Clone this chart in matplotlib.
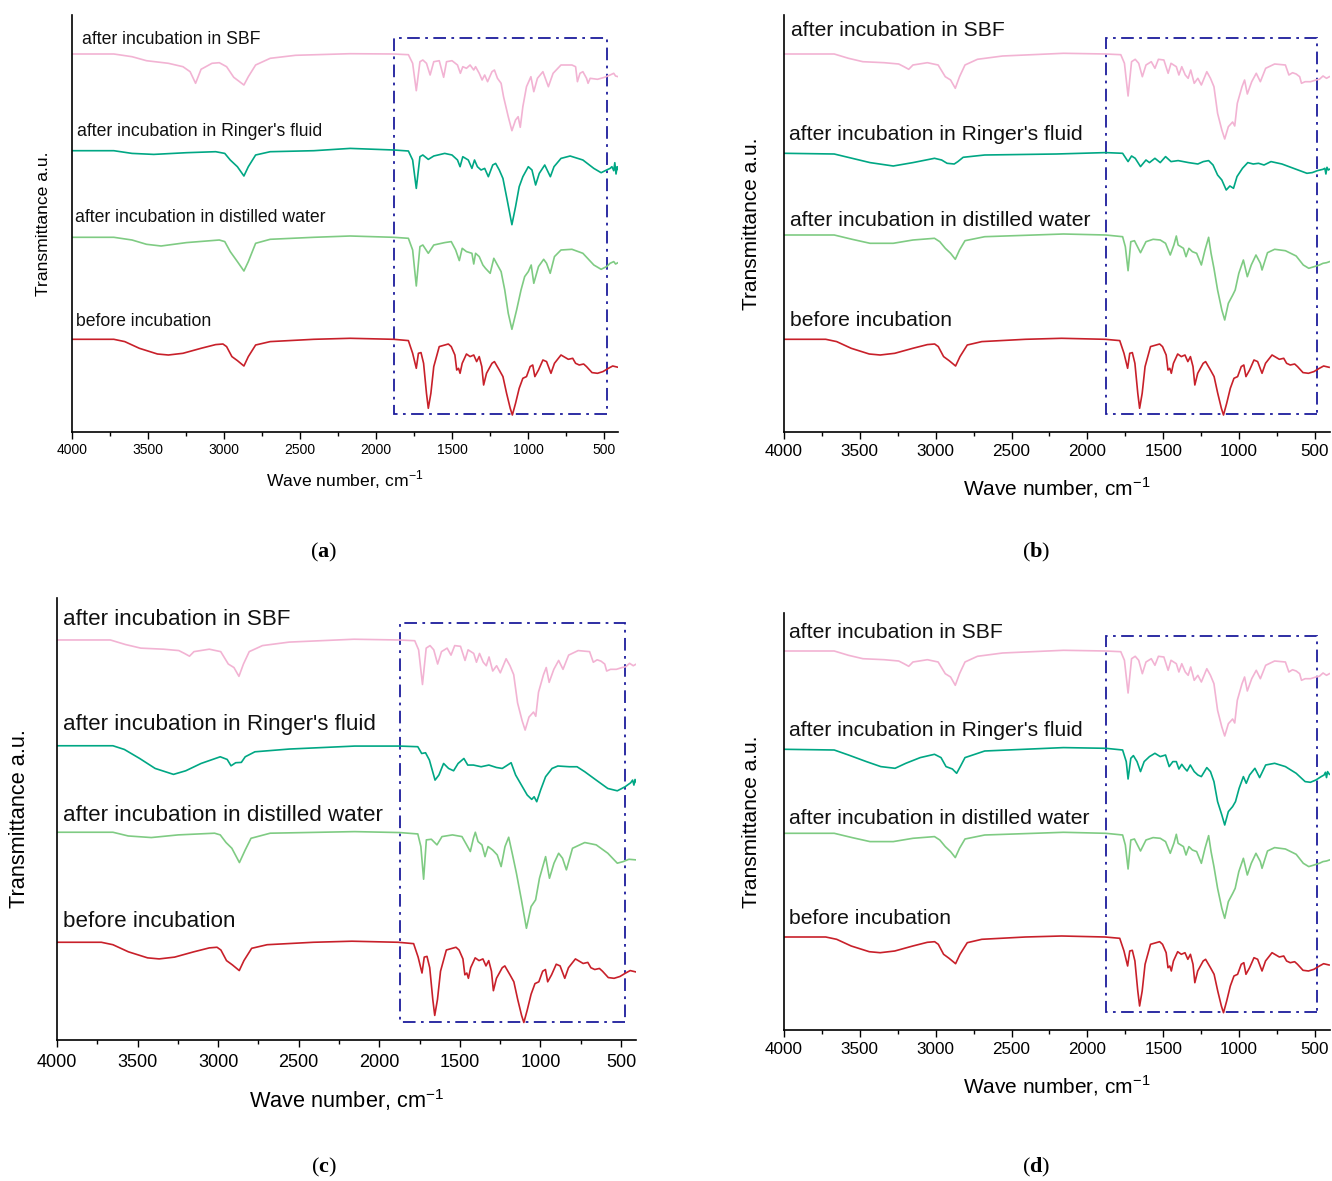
import matplotlib
matplotlib.use('Agg')
import matplotlib.pyplot as plt
from matplotlib.patches import Rectangle

plt.rcParams['font.family'] = ['Liberation Sans', 'DejaVu Sans']
plt.rcParams['mathtext.fontset'] = 'custom'
plt.rcParams['mathtext.rm'] = 'Liberation Sans'
plt.rcParams['mathtext.bf'] = 'Liberation Serif:bold'

# spectra: wave number (cm-1) and relative transmittance (a.u., 0 = baseline)
before_wn = [4000, 3725, 3653, 3557, 3438, 3366, 3270, 3151, 3055, 3007, 2983, 2948, 2912, 2869, 2840, 2792,
             2696, 2409, 2170, 1883, 1787, 1759, 1735, 1721, 1704, 1687, 1668, 1656, 1639, 1620, 1584, 1524,
             1505, 1481, 1469, 1457, 1447, 1433, 1405, 1381, 1357, 1338, 1321, 1304, 1292, 1273, 1237, 1221,
             1189, 1165, 1141, 1117, 1103, 1082, 1058, 1034, 1010, 986, 969, 955, 931, 902, 878, 849, 826,
             783, 735, 706, 687, 663, 634, 615, 579, 543, 507, 471, 443, 407]
before_t = [0, 0, -2.3, -9, -14.7, -15.7, -14, -9, -5.3, -4.7, -7.3, -17.3, -21.3, -26.7, -17.3, -5.7,
            -2.3, 0, 1, 0, -1.3, -14, -29, -14, -13.3, -24, -54, -69, -54, -27.3, -7.3, -4.7,
            -7.3, -15.7, -30.7, -29, -34, -24, -14.7, -17.3, -15.7, -22.3, -17.3, -27.3, -45.7, -34, -24, -22.3,
            -30.7, -37.3, -54, -69, -75.7, -64, -49, -39, -37.3, -27.3, -25.7, -37.3, -30.7, -20.7, -22.3, -34, -24,
            -15.7, -20, -19, -24, -25.7, -24.7, -27.3, -33.3, -34, -32.3, -29, -26.7, -28]

# (a)
sbf_a_wn = [4000, 3725, 3605, 3510, 3366, 3270, 3223, 3187, 3151, 3127, 3079, 3031, 2983, 2936, 2869, 2840,
            2792, 2696, 2529, 2170, 1883, 1787, 1759, 1735, 1711, 1692, 1668, 1644, 1620, 1584, 1555, 1536,
            1500, 1464, 1445, 1429, 1405, 1381, 1357, 1345, 1321, 1302, 1285, 1266, 1237, 1221, 1201, 1177,
            1161, 1130, 1106, 1082, 1065, 1051, 1034, 1010, 981, 962, 938, 902, 866, 835, 783, 711, 687, 675,
            658, 639, 615, 605, 591, 543, 496, 460, 436, 424, 407]
sbf_a_t = [0, 0, -2.7, -6.7, -9.3, -12.7, -17.7, -29.3, -15.3, -13.3, -9.3, -8.7, -12.7, -23.3, -31, -22.7,
           -11, -4.3, -1.3, 0.3, 0, -0.7, -9.3, -36.7, -7.7, -6, -9.3, -21, -7.7, -6.7, -23.3, -7.7,
           -6.7, -11, -19.3, -12.7, -14.3, -11, -16, -12.7, -19.3, -26, -21, -27.7, -17.7, -16, -24.3, -29.3,
           -42.7, -62.7, -76.7, -66, -62.7, -73.3, -52.7, -32.7, -22.7, -37.7, -24.3, -17.7, -32.7, -19.3, -11, -11, -12.7, -27.7,
           -19.3, -17.7, -24.3, -29.3, -24.3, -25.3, -23.3, -21, -19.3, -22, -22.7]

ringer_a_wn = [4000, 3725, 3605, 3462, 3247, 3055, 2995, 2959, 2912, 2869, 2840, 2792, 2696, 2409, 2170, 1883,
               1787, 1759, 1735, 1711, 1692, 1656, 1620, 1548, 1500, 1464, 1447, 1429, 1393, 1369, 1352, 1333,
               1309, 1285, 1261, 1232, 1213, 1189, 1165, 1137, 1106, 1082, 1058, 1034, 998, 974, 950, 926,
               890, 853, 829, 783, 723, 639, 567, 519, 483, 460, 448, 436, 429, 421, 414, 407]
ringer_a_t = [0, 0, -2.7, -3.7, -2, -1, -2.7, -9.3, -16, -25.3, -16, -4.3, -1, 0, 2.3, 0.7,
              -0.3, -9.3, -37.7, -6, -4.3, -8.7, -5.3, -2.7, -4.3, -9.3, -16, -6, -9.3, -17.7, -9.3, -16,
              -19.3, -17.7, -26, -14.3, -12.7, -19.3, -27.7, -49.3, -74, -56, -36, -26, -16, -19.3, -34.3, -22.7,
              -14.3, -26, -16, -7.7, -5.3, -9.3, -17.7, -22, -19.3, -17.7, -16, -20, -12, -23.3, -16, -18.7]

distilled_a_wn = [4000, 3725, 3605, 3510, 3414, 3247, 3031, 2995, 2959, 2912, 2869, 2840, 2792, 2696, 2409, 2170,
                  1883, 1787, 1759, 1735, 1711, 1692, 1656, 1620, 1548, 1505, 1476, 1452, 1433, 1405, 1369, 1357,
                  1345, 1321, 1297, 1280, 1249, 1225, 1201, 1177, 1153, 1130, 1106, 1075, 1046, 1022, 998, 979,
                  962, 931, 897, 878, 854, 826, 783, 711, 639, 567, 519, 483, 460, 436, 424, 407]
distilled_a_t = [0, 0, -2.7, -7, -8.7, -5.3, -2.7, -4.3, -14.3, -24.3, -33.7, -24.3, -6, -2, 0, 1.3,
                 0, -1, -12.7, -48.7, -9.3, -7.7, -16, -7.7, -5.3, -4.3, -12.7, -23.3, -11, -14.3, -16, -26.7,
                 -16, -19.3, -27.7, -31, -36, -21, -27.7, -34.3, -52.7, -76, -92, -72.7, -52.7, -39.3, -34.3, -27.7,
                 -46, -29.3, -22, -26, -36, -19.3, -12.7, -12, -16, -27.7, -32, -29.3, -26, -24.3, -26.7, -25.3]

# (b), also (c) and (d) for SBF; (b) and (d) for distilled water
sbf_wn = [4000, 3669, 3575, 3480, 3339, 3244, 3209, 3178, 3150, 3055, 2984, 2937, 2902, 2871, 2843, 2807,
          2725, 2559, 2158, 1879, 1780, 1756, 1732, 1709, 1685, 1662, 1638, 1614, 1579, 1555, 1532, 1496,
          1468, 1449, 1414, 1397, 1378, 1355, 1336, 1319, 1296, 1272, 1249, 1213, 1189, 1166, 1142, 1114,
          1095, 1071, 1043, 1029, 1012, 981, 964, 946, 917, 887, 860, 825, 766, 695, 672, 648, 624, 601,
          589, 565, 529, 494, 471, 447, 424, 405]
sbf_t = [0, 0, -4.3, -7.7, -8.7, -10, -12.7, -15.3, -11, -8.7, -11, -22.7, -26, -34.3, -22.7, -11,
         -5.3, -2, 0.7, 0, -0.7, -9.3, -42, -7.7, -5.3, -9.3, -22.7, -11, -7.7, -14.3, -5.3, -6,
         -19.3, -9.3, -12.7, -21, -12.7, -21, -24.3, -16, -29.3, -24.3, -31, -17.7, -24.3, -32.7, -59.3, -76,
         -85, -72.7, -68, -72, -49.3, -32.7, -26, -40, -27.7, -19.3, -27.7, -14.3, -10, -11, -21, -18.7, -20, -22.7,
         -29.3, -27.7, -27.7, -26, -25.3, -22, -24.3, -22.7]

ringer_b_wn = [4000, 3669, 3551, 3433, 3280, 3150, 3008, 2961, 2925, 2878, 2854, 2819, 2677, 2205, 1879, 1768,
               1732, 1709, 1685, 1650, 1614, 1591, 1555, 1520, 1485, 1449, 1402, 1333, 1272, 1236, 1201, 1172,
               1142, 1114, 1085, 1061, 1037, 1014, 978, 943, 907, 872, 836, 790, 718, 624, 553, 518, 483, 447,
               435, 428, 421, 412, 405]
ringer_b_t = [0, -0.7, -5, -9.3, -12.7, -9.3, -5, -6.7, -10, -10.7, -8.3, -4, -1.7, -0.7, 0.7, 0,
              -8.3, -2.7, -5, -13.3, -6.7, -9.3, -5, -9.3, -3.3, -8.3, -7.3, -9.3, -10.7, -8.3, -7.3, -11.7,
              -21.7, -26.7, -36.7, -32.7, -35, -23.3, -15, -9.3, -10.7, -10, -11.7, -8.3, -10.7, -16, -20, -19.3, -17.3, -16,
              -15, -20.7, -14, -16.7, -16]

distilled_wn = [4000, 3669, 3551, 3433, 3280, 3150, 3008, 2973, 2937, 2902, 2871, 2843, 2807, 2677, 2158, 1879,
                1768, 1750, 1732, 1714, 1690, 1650, 1614, 1567, 1520, 1485, 1454, 1430, 1414, 1402, 1367, 1350,
                1331, 1308, 1280, 1249, 1225, 1201, 1185, 1166, 1142, 1114, 1095, 1071, 1042, 1026, 1002, 972,
                946, 920, 889, 860, 849, 813, 766, 695, 624, 577, 541, 506, 471, 447, 424, 405]
distilled_t = [0, 0, -4.3, -8.3, -8.3, -5, -3.3, -6.7, -13.3, -18.3, -24.3, -15, -5.7, -1.7, 1, 0,
               -1.7, -11.7, -35.7, -6.7, -5.7, -17.7, -6.7, -4.3, -5, -8.3, -20, -10, -1, -10, -13.3, -21.7,
               -13.3, -16.7, -18.3, -30, -15, -2.3, -18.3, -33.3, -55, -75, -85, -68.3, -60, -55, -38.3, -25,
               -41.7, -30, -20, -28.3, -35, -17.7, -14.3, -15.7, -21, -30, -33.3, -31.7, -30, -28.3, -27.7, -26.7]

# (c)
ringer_c_wn = [4000, 3653, 3582, 3487, 3391, 3277, 3201, 3106, 2987, 2944, 2920, 2891, 2856, 2832, 2772, 2558,
               2153, 1873, 1761, 1737, 1713, 1689, 1654, 1630, 1601, 1570, 1539, 1511, 1475, 1451, 1416, 1368,
               1320, 1273, 1237, 1213, 1182, 1154, 1118, 1082, 1054, 1039, 1023, 999, 968, 928, 892, 820, 773,
               725, 654, 582, 523, 475, 440, 428, 420, 413, 404]
ringer_c_t = [0, 0, -3.5, -12, -21.4, -27, -23.6, -16.7, -10.4, -12.9, -18.9, -16, -15.7, -10.4, -5.7, -3.1,
              -0.3, -0.3, -0.9, -7.3, -6.6, -13.5, -32.4, -27.6, -16.7, -21.4, -23.6, -16.7, -12, -18.2, -18.2, -19.8,
              -18.2, -20.5, -21.4, -19.1, -16, -27.6, -37.1, -46.5, -50.6, -48.1, -52.8, -41.8, -29.2, -21.4, -19.1, -19.8, -19.8,
              -24.5, -32.4, -40.3, -42.5, -38.7, -34.9, -32.4, -37.1, -31.8, -34.9]

distilled_c_wn = [4000, 3653, 3558, 3415, 3248, 3022, 2987, 2951, 2915, 2868, 2832, 2796, 2677, 2153, 1873, 1761,
                  1742, 1725, 1708, 1677, 1642, 1611, 1546, 1487, 1458, 1435, 1416, 1404, 1387, 1363, 1344, 1325,
                  1297, 1268, 1244, 1220, 1197, 1173, 1149, 1118, 1087, 1058, 1030, 1006, 968, 944, 916, 887,
                  863, 839, 801, 725, 654, 582, 523, 487, 451, 404]
distilled_c_t = [0, 0, -3.5, -5, -2.5, -0.9, -2.5, -9.7, -15.1, -28.6, -16.7, -5.7, -0.9, 0.6, -0.3, -1.6,
                 -13.5, -44.3, -7.2, -6.6, -11.9, -4.1, -2.5, -4.1, -11.9, -18.2, -5.7, 0, -8.8, -11.9, -23, -13.5,
                 -16.7, -21.4, -32.4, -13.5, -4.7, -21.4, -38.7, -63.8, -90.6, -70.1, -63.8, -43.4, -23, -43.4, -29.2, -19.8,
                 -24.5, -35.5, -15.1, -9.7, -11.9, -19.8, -29.2, -27.7, -25.5, -26.1]

# (d)
ringer_d_wn = [4000, 3669, 3575, 3457, 3362, 3268, 3197, 3102, 3008, 2965, 2932, 2890, 2862, 2838, 2807, 2677,
               2158, 1879, 1768, 1744, 1732, 1714, 1697, 1673, 1650, 1626, 1591, 1555, 1520, 1485, 1461, 1437,
               1414, 1397, 1378, 1359, 1343, 1322, 1296, 1272, 1249, 1213, 1189, 1166, 1142, 1114, 1095, 1071,
               1043, 1024, 1000, 972, 953, 931, 896, 865, 825, 766, 695, 624, 565, 530, 494, 459, 440, 431,
               424, 417, 405]
ringer_d_t = [0, -0.7, -5.7, -12.3, -17.3, -19, -14, -8.3, -5, -8.3, -17.3, -19.7, -24, -17.3, -8.3, -1.7,
              1.7, 1, -0.7, -12.3, -29.7, -9, -6.3, -12.3, -22.3, -12.3, -7.3, -4, -7.3, -5.7, -17.3, -12.3,
              -12.3, -19.7, -15, -19, -21.7, -15.7, -22.3, -25.7, -27.3, -18.3, -22.3, -32.3, -52.3, -65.7, -75.7, -62.3,
              -57.3, -52.3, -39, -27.3, -34, -25.7, -19, -28.3, -15.7, -14, -17.3, -24, -32.3, -33, -30.7, -27.3, -25.7, -23,
              -28.3, -22.3, -25]

labels = ['before incubation', 'after incubation in distilled water',
          "after incubation in Ringer's fluid", 'after incubation in SBF']
colors = ['#c8202a', '#7fcb83', '#00a784', '#f2b3d3']

panels = [
    dict(name='a', rect=(72, 618, 15, 432), xmax=408, fs=12.7, tfs=10, afs=12.6,
         spectra=[(before_wn, before_t), (distilled_a_wn, distilled_a_t), (ringer_a_wn, ringer_a_t), (sbf_a_wn, sbf_a_t)],
         offsets=[92.7, 194.7, 281.3, 378], text_x=[3974, 3980, 3967, 3934], text_y=[111, 214, 300, 393],
         box=(1883, 483, 17.7, 393.7), xlab_y=-0.115, ylab_x=-0.053, tpad=3, lbl=(324, 552)),
    dict(name='b', rect=(784, 1330, 15, 432), xmax=401, fs=15.2, tfs=12.3, afs=15,
         spectra=[(before_wn, before_t), (distilled_wn, distilled_t), (ringer_b_wn, ringer_b_t), (sbf_wn, sbf_t)],
         offsets=[92.7, 197, 278.7, 378], text_x=[3960, 3960, 3967, 3954], text_y=[111, 212, 297, 401],
         box=(1879, 485, 17.7, 393.7), xlab_y=-0.134, ylab_x=-0.059, tpad=4, lbl=(1036, 552)),
    dict(name='c', rect=(57, 636, 598, 1040), xmax=407, fs=16.1, tfs=13, afs=15.7,
         spectra=[(before_wn, before_t), (distilled_c_wn, distilled_c_t), (ringer_c_wn, ringer_c_t), (sbf_wn, sbf_t)],
         offsets=[92.2, 196, 277.6, 377.4], text_x=[3963, 3963, 3963, 3963], text_y=[112, 212, 298, 397],
         box=(1873, 478, 17.3, 393.7), xlab_y=-0.136, ylab_x=-0.064, tpad=5, lbl=(324, 1167)),
    dict(name='d', rect=(784, 1330, 613, 1030), xmax=401, fs=15.2, tfs=12.3, afs=15,
         spectra=[(before_wn, before_t), (distilled_wn, distilled_t), (ringer_d_wn, ringer_d_t), (sbf_wn, sbf_t)],
         offsets=[93, 196.7, 280.7, 379], text_x=[3967, 3967, 3967, 3967], text_y=[111, 212, 299, 397],
         box=(1879, 485, 17.7, 394.3), xlab_y=-0.134, ylab_x=-0.06, tpad=4, lbl=(1036, 1167)),
]

W, H = 1332, 1181
fig = plt.figure(figsize=(W / 100, H / 100), dpi=100)

for p in panels:
    l, r, t, b = p['rect']
    ax = fig.add_axes([l / W, 1 - b / H, (r - l) / W, (b - t) / H])
    for (wn, tr), off, c in zip(p['spectra'], p['offsets'], colors):
        ax.plot(wn, [off + v for v in tr], color=c, lw=1.2)
    for lab, tx, ty in zip(labels, p['text_x'], p['text_y']):
        ax.text(tx, ty, lab, fontsize=p['fs'], va='center', ha='left', color='#111111')
    x0, x1, y0, y1 = p['box']
    ax.add_patch(Rectangle((x1, y0), x0 - x1, y1 - y0, fill=False, ec='#1c1c9c', lw=1.3,
                           ls=(0, (7, 3, 1.5, 3))))
    ax.set_xlim(4000, p['xmax'])
    ax.set_ylim(0, 417)
    ax.set_xticks([4000, 3500, 3000, 2500, 2000, 1500, 1000, 500])
    ax.set_xticks(range(3750, 400, -500), minor=True)
    ax.set_yticks([])
    ax.tick_params(axis='x', which='major', direction='out', length=5, width=1, labelsize=p['tfs'], pad=p['tpad'])
    ax.tick_params(axis='x', which='minor', direction='out', length=3, width=1)
    for s in ['top', 'right']:
        ax.spines[s].set_visible(False)
    for s in ['left', 'bottom']:
        ax.spines[s].set_linewidth(1.2)
    ax.set_xlabel(r'Wave number, cm$^{-1}$', fontsize=p['afs'])
    ax.xaxis.set_label_coords(0.5, p['xlab_y'])
    ax.xaxis.label.set_va('center')
    ax.set_ylabel('Transmittance a.u.', fontsize=p['afs'])
    ax.yaxis.set_label_coords(p['ylab_x'], 0.5)
    ax.yaxis.label.set_va('center')
    fig.text(p['lbl'][0] / W, 1 - p['lbl'][1] / H, '(' + r'$\mathbf{' + p['name'] + '}$' + ')',
             fontsize=16, family='Liberation Serif', ha='center', va='center')

fig.savefig('out.png', dpi=100)
